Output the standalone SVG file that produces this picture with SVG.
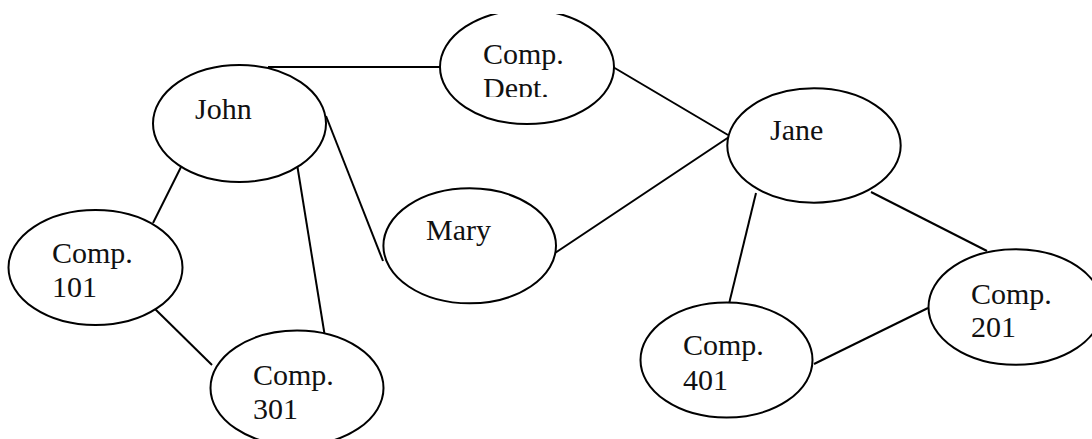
<svg xmlns="http://www.w3.org/2000/svg" width="1092" height="439" viewBox="0 0 1092 439">
<style>
.node ellipse{fill:#fff;stroke:#000;stroke-width:2}
.node text{font-family:"Liberation Serif","Times New Roman",serif;font-size:30px;fill:#111}
#edges line{stroke:#000;stroke-width:2}
</style>
<defs>
<clipPath id="topclip"><rect x="0" y="14" width="1092" height="425"/></clipPath>
<clipPath id="deptText"><rect x="0" y="14" width="1092" height="83"/></clipPath>
</defs>
<rect width="1092" height="439" fill="#fff"/>
<g id="edges">
<line x1="268" y1="67" x2="440" y2="67"/>
<line x1="613" y1="67" x2="728" y2="135"/>
<line x1="555" y1="253" x2="729" y2="137"/>
<line x1="756" y1="193" x2="728" y2="308"/>
<line x1="871" y1="192" x2="987" y2="251"/>
<line x1="814" y1="364" x2="928" y2="308"/>
<line x1="182" y1="165" x2="153" y2="223"/>
<line x1="297" y1="164" x2="325" y2="337"/>
<line x1="326" y1="116" x2="383" y2="261"/>
<line x1="153" y1="307" x2="212" y2="365"/>
</g>
<g id="john" class="node">
<ellipse cx="239.5" cy="123.5" rx="86.5" ry="58.5"/>
<text x="195" y="119">John</text>
</g>
<g id="compdept" class="node">
<ellipse cx="527" cy="67" rx="87" ry="57" clip-path="url(#topclip)"/>
<g clip-path="url(#deptText)">
<text x="483" y="64">Comp.</text>
<text x="483" y="98">Dept.</text>
</g>
</g>
<g id="jane" class="node">
<ellipse cx="814" cy="145.5" rx="86.7" ry="57.2"/>
<text x="770" y="140">Jane</text>
</g>
<g id="mary" class="node">
<ellipse cx="469.7" cy="245.8" rx="86.3" ry="57.5"/>
<text x="426" y="240">Mary</text>
</g>
<g id="comp101" class="node">
<ellipse cx="95.5" cy="267.5" rx="87" ry="57.5"/>
<text x="52" y="263">Comp.</text>
<text x="52" y="297">101</text>
</g>
<g id="comp301" class="node">
<ellipse cx="297" cy="388" rx="86.5" ry="57.5"/>
<text x="253" y="385">Comp.</text>
<text x="253" y="419">301</text>
</g>
<g id="comp401" class="node">
<ellipse cx="726.5" cy="360" rx="86" ry="57.5"/>
<text x="683" y="355">Comp.</text>
<text x="683" y="390">401</text>
</g>
<g id="comp201" class="node">
<ellipse cx="1015.5" cy="307" rx="87" ry="57.8"/>
<text x="971" y="304">Comp.</text>
<text x="971" y="337">201</text>
</g>
</svg>
